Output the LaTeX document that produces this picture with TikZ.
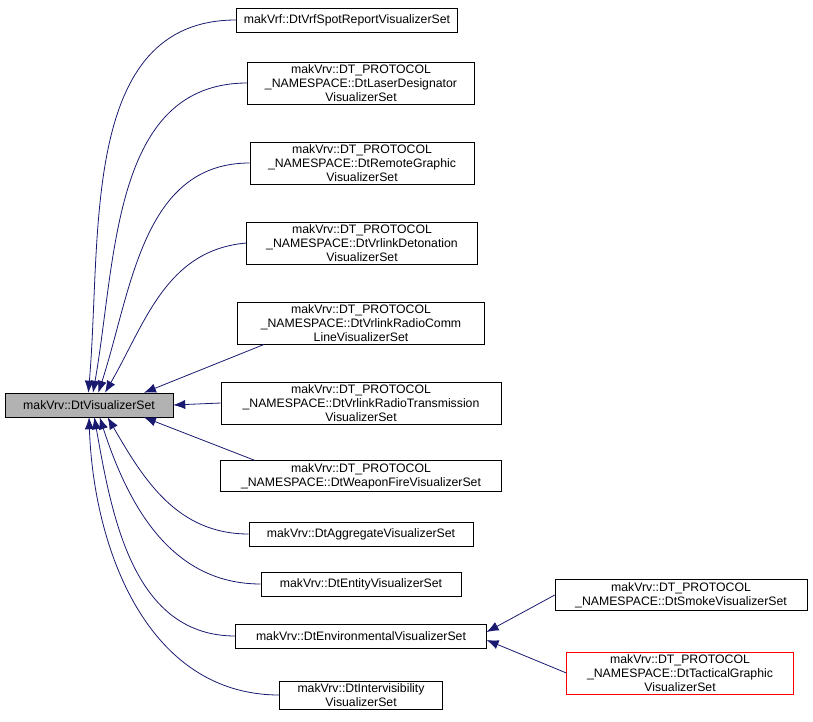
\documentclass[tikz,border=0pt]{standalone}
\usepackage{fontspec}
\setmainfont{Liberation Sans}
\usetikzlibrary{arrows.meta}
\definecolor{edgecolor}{rgb}{0.098, 0.098, 0.439}
\tikzset{
  cls/.style={draw=black, fill=white, align=center, font=\fontsize{9.2}{10.5}\selectfont, inner sep=2pt, minimum height=18pt},
  edge/.style={draw=edgecolor, -{Latex[length=9pt,width=7pt]}, line width=0.6pt}
}
\begin{document}
\begin{tikzpicture}[x=0.75pt,y=-0.75pt]
\useasboundingbox (0,0) rectangle (813,721);
% base class
\node[cls, fill=gray!60, minimum width=126pt] (base) at (89,405) {makVrv::DtVisualizerSet};
% derived classes
\node[cls, minimum width=166pt] (spot) at (347,20) {makVrf::DtVrfSpotReportVisualizerSet};
\node[cls, minimum width=170pt] (laser) at (361,83) {makVrv::DT\_PROTOCOL\\\_NAMESPACE::DtLaserDesignator\\VisualizerSet};
\node[cls, minimum width=168pt] (remote) at (362,163) {makVrv::DT\_PROTOCOL\\\_NAMESPACE::DtRemoteGraphic\\VisualizerSet};
\node[cls, minimum width=173pt] (deton) at (362,243) {makVrv::DT\_PROTOCOL\\\_NAMESPACE::DtVrlinkDetonation\\VisualizerSet};
\node[cls, minimum width=185pt] (radiocomm) at (361,323) {makVrv::DT\_PROTOCOL\\\_NAMESPACE::DtVrlinkRadioComm\\LineVisualizerSet};
\node[cls, minimum width=210pt] (radiotx) at (361,403) {makVrv::DT\_PROTOCOL\\\_NAMESPACE::DtVrlinkRadioTransmission\\VisualizerSet};
\node[cls, minimum width=211pt] (weapon) at (361,476) {makVrv::DT\_PROTOCOL\\\_NAMESPACE::DtWeaponFireVisualizerSet};
\node[cls, minimum width=168pt] (aggr) at (361,534) {makVrv::DtAggregateVisualizerSet};
\node[cls, minimum width=150pt] (entity) at (361,584) {makVrv::DtEntityVisualizerSet};
\node[cls, minimum width=188pt] (env) at (361,636) {makVrv::DtEnvironmentalVisualizerSet};
\node[cls, minimum width=122pt] (intervis) at (361,695) {makVrv::DtIntervisibility\\VisualizerSet};
\node[cls, minimum width=189pt] (smoke) at (681,595) {makVrv::DT\_PROTOCOL\\\_NAMESPACE::DtSmokeVisualizerSet};
\node[cls, draw=red, minimum width=170pt] (tactical) at (680,673) {makVrv::DT\_PROTOCOL\\\_NAMESPACE::DtTacticalGraphic\\VisualizerSet};
% inheritance edges
\draw[edge] (spot.west) to[out=180,in=85] ([xshift=-0.5pt]base.north);
\draw[edge] (laser.west) to[out=180,in=80] ([xshift=3pt]base.north);
\draw[edge] (remote.west) to[out=180,in=72] ([xshift=7pt]base.north);
\draw[edge] (deton.west) to[out=185,in=60] ([xshift=12pt]base.north);
\draw[edge] ([xshift=20pt]radiocomm.south west) -- ([xshift=-22pt]base.north east);
\draw[edge] (radiotx.west) -- (base.east);
\draw[edge] ([xshift=26pt]weapon.north west) -- ([xshift=-22pt]base.south east);
\draw[edge] (aggr.west) to[out=180,in=-60] ([xshift=14pt]base.south);
\draw[edge] (entity.west) to[out=180,in=-72] ([xshift=8pt]base.south);
\draw[edge] (env.west) to[out=180,in=-80] ([xshift=4pt]base.south);
\draw[edge] (intervis.west) to[out=180,in=-88] ([xshift=0pt]base.south);
\draw[edge] (smoke.west) -- ([yshift=3pt]env.east);
\draw[edge] (tactical.west) -- ([yshift=-3pt]env.east);
\end{tikzpicture}
\end{document}
